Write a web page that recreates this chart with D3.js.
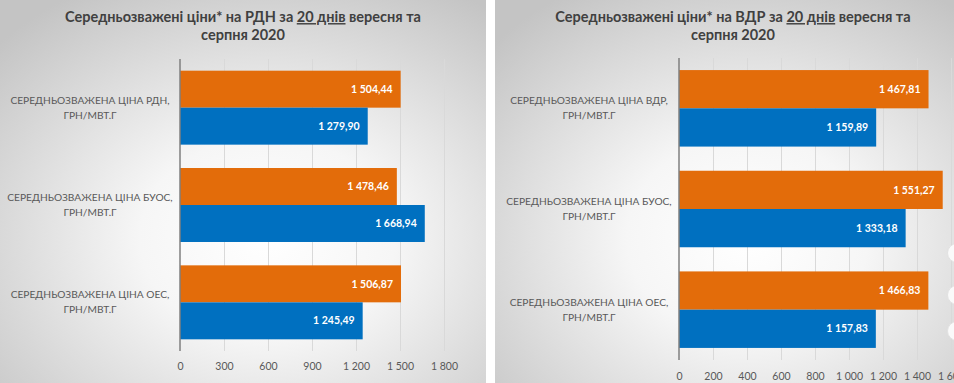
<!DOCTYPE html>
<html><head><meta charset="utf-8">
<script src="https://cdn.jsdelivr.net/npm/d3@7"></script>
<style>
html,body{margin:0;padding:0;background:#ffffff;overflow:hidden}
svg{display:block}
</style></head>
<body>
<svg id="chart" width="954" height="383"></svg>
<script>
// ---- DATA ----
const categoriesLeft = ["СЕРЕДНЬОЗВАЖЕНА ЦІНА РДН,\nГРН/МВТ.Г", "СЕРЕДНЬОЗВАЖЕНА ЦІНА БУОС,\nГРН/МВТ.Г", "СЕРЕДНЬОЗВАЖЕНА ЦІНА ОЕС,\nГРН/МВТ.Г"];
const categoriesRight = ["СЕРЕДНЬОЗВАЖЕНА ЦІНА ВДР,\nГРН/МВТ.Г", "СЕРЕДНЬОЗВАЖЕНА ЦІНА БУОС,\nГРН/МВТ.Г", "СЕРЕДНЬОЗВАЖЕНА ЦІНА ОЕС,\nГРН/МВТ.Г"];
const seriesNames = ["orange", "blue"];
const leftOrange = [1504.44, 1478.46, 1506.87];
const leftBlue = [1279.90, 1668.94, 1245.49];
const rightOrange = [1467.81, 1551.27, 1466.83];
const rightBlue = [1159.89, 1333.18, 1157.83];
const ticksLeft = [0, 300, 600, 900, 1200, 1500, 1800];
const ticksRight = [0, 200, 400, 600, 800, 1000, 1200, 1400, 1600];
const titleLeft = ["Середньозважені ціни* на РДН за ", "20 днів", " вересня та", "серпня 2020"];
const titleRight = ["Середньозважені ціни* на ВДР за ", "20 днів", " вересня та", "серпня 2020"];

const colors = {orange: "#E36C0A", blue: "#0070C0"};
const loc = d3.formatLocale({decimal: ",", thousands: "\u00a0", grouping: [3], currency: ["", ""]});
const fmtVal = loc.format(",.2f");
const fmtTick = loc.format(",d");

const svg = d3.select("#chart");
const defs = svg.append("defs");
const grad = defs.append("radialGradient").attr("id", "bg")
  .attr("cx", "55%").attr("cy", "62%").attr("r", "75%");
grad.append("stop").attr("offset", "0%").attr("stop-color", "#ffffff");
grad.append("stop").attr("offset", "35%").attr("stop-color", "#f6f6f6");
grad.append("stop").attr("offset", "100%").attr("stop-color", "#c4c4c4");

const font = "Lato, 'Liberation Sans', sans-serif";

function panel(cfg) {
  const g = svg.append("g");
  g.append("rect").attr("x", cfg.px0).attr("y", 0).attr("width", cfg.px1 - cfg.px0).attr("height", 383)
    .attr("fill", "url(#bg)");

  const x = d3.scaleLinear().domain([0, 1800]).range([cfg.x0, cfg.x0 + cfg.pxPerUnit * 1800]);
  const y = d3.scaleBand().domain(d3.range(cfg.cats.length)).range([cfg.y0, cfg.y1])
    .paddingInner(0.24).paddingOuter(0.12);
  const ys = d3.scaleBand().domain(seriesNames).range([0, y.bandwidth()]);

  // gridlines
  const grid = g.append("g").attr("transform", `translate(0,${cfg.y1})`)
    .call(d3.axisBottom(x).tickValues(cfg.ticks.filter(t => t > 0)).tickSize(-(cfg.y1 - cfg.y0)).tickFormat(""));
  grid.select(".domain").remove();
  grid.selectAll("line").attr("stroke", "#d9d9d9").attr("stroke-width", 1);

  // bars
  const rows = cfg.cats.map((c, i) => ({i, vals: [{s: "orange", v: cfg.orange[i]}, {s: "blue", v: cfg.blue[i]}]}));
  const rg = g.selectAll("g.row").data(rows).join("g").attr("class", "row")
    .attr("transform", d => `translate(0,${y(d.i)})`);
  rg.selectAll("rect").data(d => d.vals).join("rect")
    .attr("x", x(0)).attr("y", d => ys(d.s)).attr("width", d => x(d.v) - x(0)).attr("height", ys.bandwidth())
    .attr("fill", d => colors[d.s]);
  rg.selectAll("text").data(d => d.vals).join("text")
    .attr("x", d => x(d.v) - 8).attr("y", d => ys(d.s) + ys.bandwidth() / 2)
    .attr("dy", "0.35em").attr("text-anchor", "end")
    .attr("font-family", font).attr("font-weight", "bold").attr("font-size", 10.5)
    .attr("fill", "#ffffff").text(d => fmtVal(d.v));

  // value axis
  const ax = g.append("g").attr("transform", `translate(0,${cfg.y1})`)
    .call(d3.axisBottom(x).tickValues(cfg.ticks).tickSize(0).tickPadding(cfg.tickPad).tickFormat(fmtTick));
  ax.select(".domain").remove();
  ax.selectAll("text").attr("font-family", font).attr("font-size", 10.5).attr("fill", "#595959");

  // category axis line
  g.append("line").attr("x1", x(0)).attr("x2", x(0)).attr("y1", cfg.y0).attr("y2", cfg.y1)
    .attr("stroke", "#7f7f7f").attr("stroke-width", 1.5);

  // category labels
  cfg.cats.forEach((c, i) => {
    const lines = c.split("\n");
    const t = g.append("text").attr("text-anchor", "middle")
      .attr("font-family", font).attr("font-size", 10.2).attr("fill", "#595959");
    lines.forEach((ln, k) => {
      t.append("tspan").attr("x", cfg.labelX).attr("y", y(i) + y.bandwidth() / 2 + (k - 0.5) * 15)
        .attr("dy", "0.35em").text(ln);
    });
  });

  // title
  const tt = g.append("text").attr("text-anchor", "middle").attr("font-family", font)
    .attr("font-weight", "bold").attr("font-size", 14.5).attr("fill", "#404040");
  const l1 = tt.append("tspan").attr("x", cfg.titleX).attr("y", 17).attr("dy", "0.35em");
  l1.append("tspan").text(cfg.title[0]);
  l1.append("tspan").attr("text-decoration", "underline").text(cfg.title[1]);
  l1.append("tspan").text(cfg.title[2]);
  tt.append("tspan").attr("x", cfg.titleX).attr("y", 35).attr("dy", "0.35em").text(cfg.title[3]);
}

panel({px0: 0, px1: 486, x0: 180, pxPerUnit: 264 / 1800, y0: 59, y1: 351, tickPad: 12,
  cats: categoriesLeft, orange: leftOrange, blue: leftBlue, ticks: ticksLeft,
  labelX: 90, titleX: 243, title: titleLeft});
panel({px0: 495, px1: 954, x0: 679, pxPerUnit: 0.17, y0: 58, y1: 360, tickPad: 13,
  cats: categoriesRight, orange: rightOrange, blue: rightBlue, ticks: ticksRight,
  labelX: 589, titleX: 733, title: titleRight});

// decorative page dots at the right edge
[253, 295, 331].forEach(cy => {
  svg.append("circle").attr("cx", 957).attr("cy", cy).attr("r", 9.5)
    .attr("fill", "#fafafa").attr("stroke", "#e2e2e2").attr("stroke-width", 1);
});
</script>
</body></html>
